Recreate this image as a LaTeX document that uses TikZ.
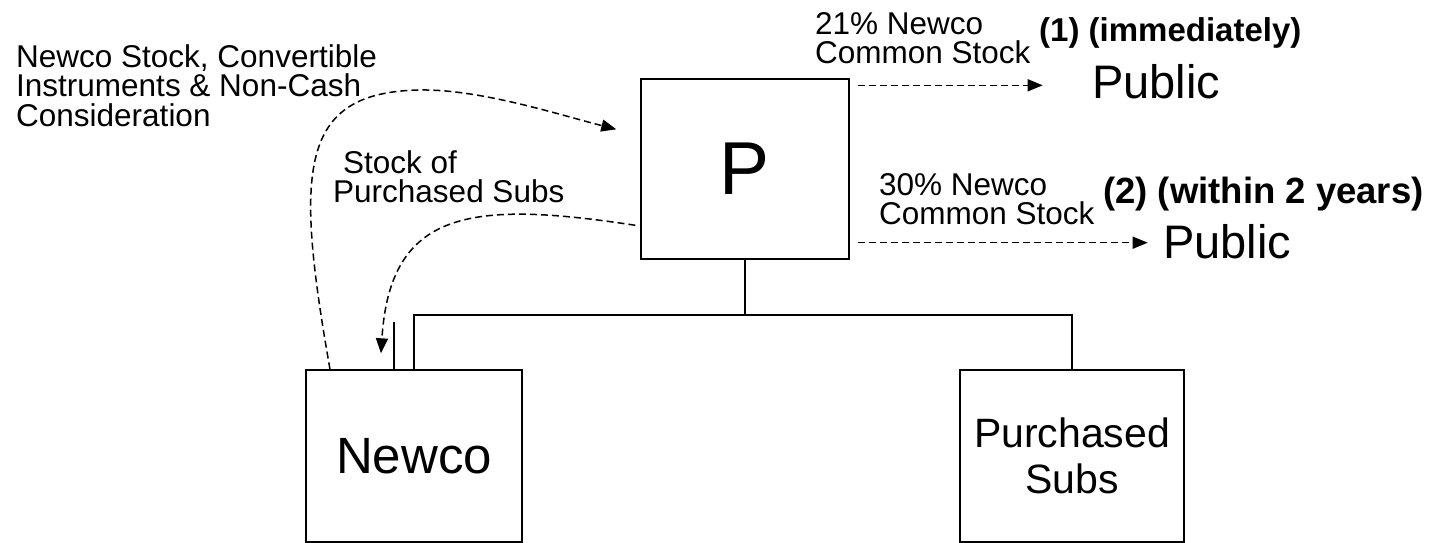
\documentclass[tikz,border=0pt]{standalone}
\usepackage{fontspec}
\setmainfont{Liberation Sans}
\usetikzlibrary{arrows.meta}
\tikzset{
  box/.style={draw, line width=1.4pt, rectangle, inner sep=0pt},
  tree/.style={line width=1.4pt},
  bar/.style={line width=2.6pt},
  dasharrow/.style={line width=1.5pt, dash pattern=on 7pt off 4pt, -{Triangle[length=15pt,width=12pt]}},
  lbl/.style={inner sep=0pt, align=left, font=\fontsize{31.5}{29.5}\selectfont},
  bld/.style={inner sep=0pt, font=\fontsize{33}{36}\selectfont\bfseries},
  pub/.style={inner sep=0pt, font=\fontsize{47}{50}\selectfont},
}
\begin{document}
\begin{tikzpicture}[x=1pt,y=-1pt]
\useasboundingbox (0,0) rectangle (1433,543);
% boxes
\node[box, minimum width=208pt, minimum height=180pt, font=\fontsize{75}{80}\selectfont] (P) at (745,169) {P};
\node[box, minimum width=216pt, minimum height=172pt, font=\fontsize{51}{55}\selectfont] (Newco) at (414,456) {Newco};
\node[box, minimum width=224pt, minimum height=172pt, align=center, font=\fontsize{41}{46}\selectfont] (Subs) at (1072,456) {Purchased\\Subs};
% tree
\coordinate (j) at (745,315);
\draw[tree] (P.south) -- (j);
\draw[tree] (Newco.north) -- (Newco.north |- j) -- (Subs.north |- j) -- (Subs.north);
\draw[bar] ([xshift=-20pt]Newco.north) -- ++(0,-47);
% labels
\node[lbl, anchor=north west] (l1) at (16,44) {Newco Stock, Convertible\\Instruments \& Non-Cash\\Consideration};
\node[lbl, anchor=north west] (l2) at (333,150) {\hspace*{10pt}Stock of\\Purchased Subs};
\node[lbl, anchor=north west] (l3) at (815,12) {21\% Newco\\Common Stock};
\node[lbl, anchor=north west] (l4) at (879,173) {30\% Newco\\Common Stock};
\node[bld, anchor=base west] (b1) at (1039,42) {(1) (immediately)};
\node[bld, anchor=base west, font=\fontsize{36.5}{40}\selectfont\bfseries] (b2) at (1103,203) {(2) (within 2 years)};
\node[pub, anchor=base west] (pub1) at (1092,99) {Public};
\node[pub, anchor=base west] (pub2) at (1163,258) {Public};
% arrows
\draw[dasharrow] ([shift={(8,7)}]P.north east) -- ++(185,0);
\draw[dasharrow] ([shift={(8,-17)}]P.south east) -- ++(290,0);
\draw[dasharrow] ([xshift=-84pt]Newco.north) .. controls (295,170) and (298,92) .. (420,90)
   .. controls (480,89) and (560,115) .. ([shift={(-24,51)}]P.north west);
\draw[dasharrow] ([shift={(-5,147)}]P.north west) .. controls (470,200) and (390,210) .. ([xshift=-33pt,yshift=16pt]Newco.north);
\end{tikzpicture}
\end{document}
